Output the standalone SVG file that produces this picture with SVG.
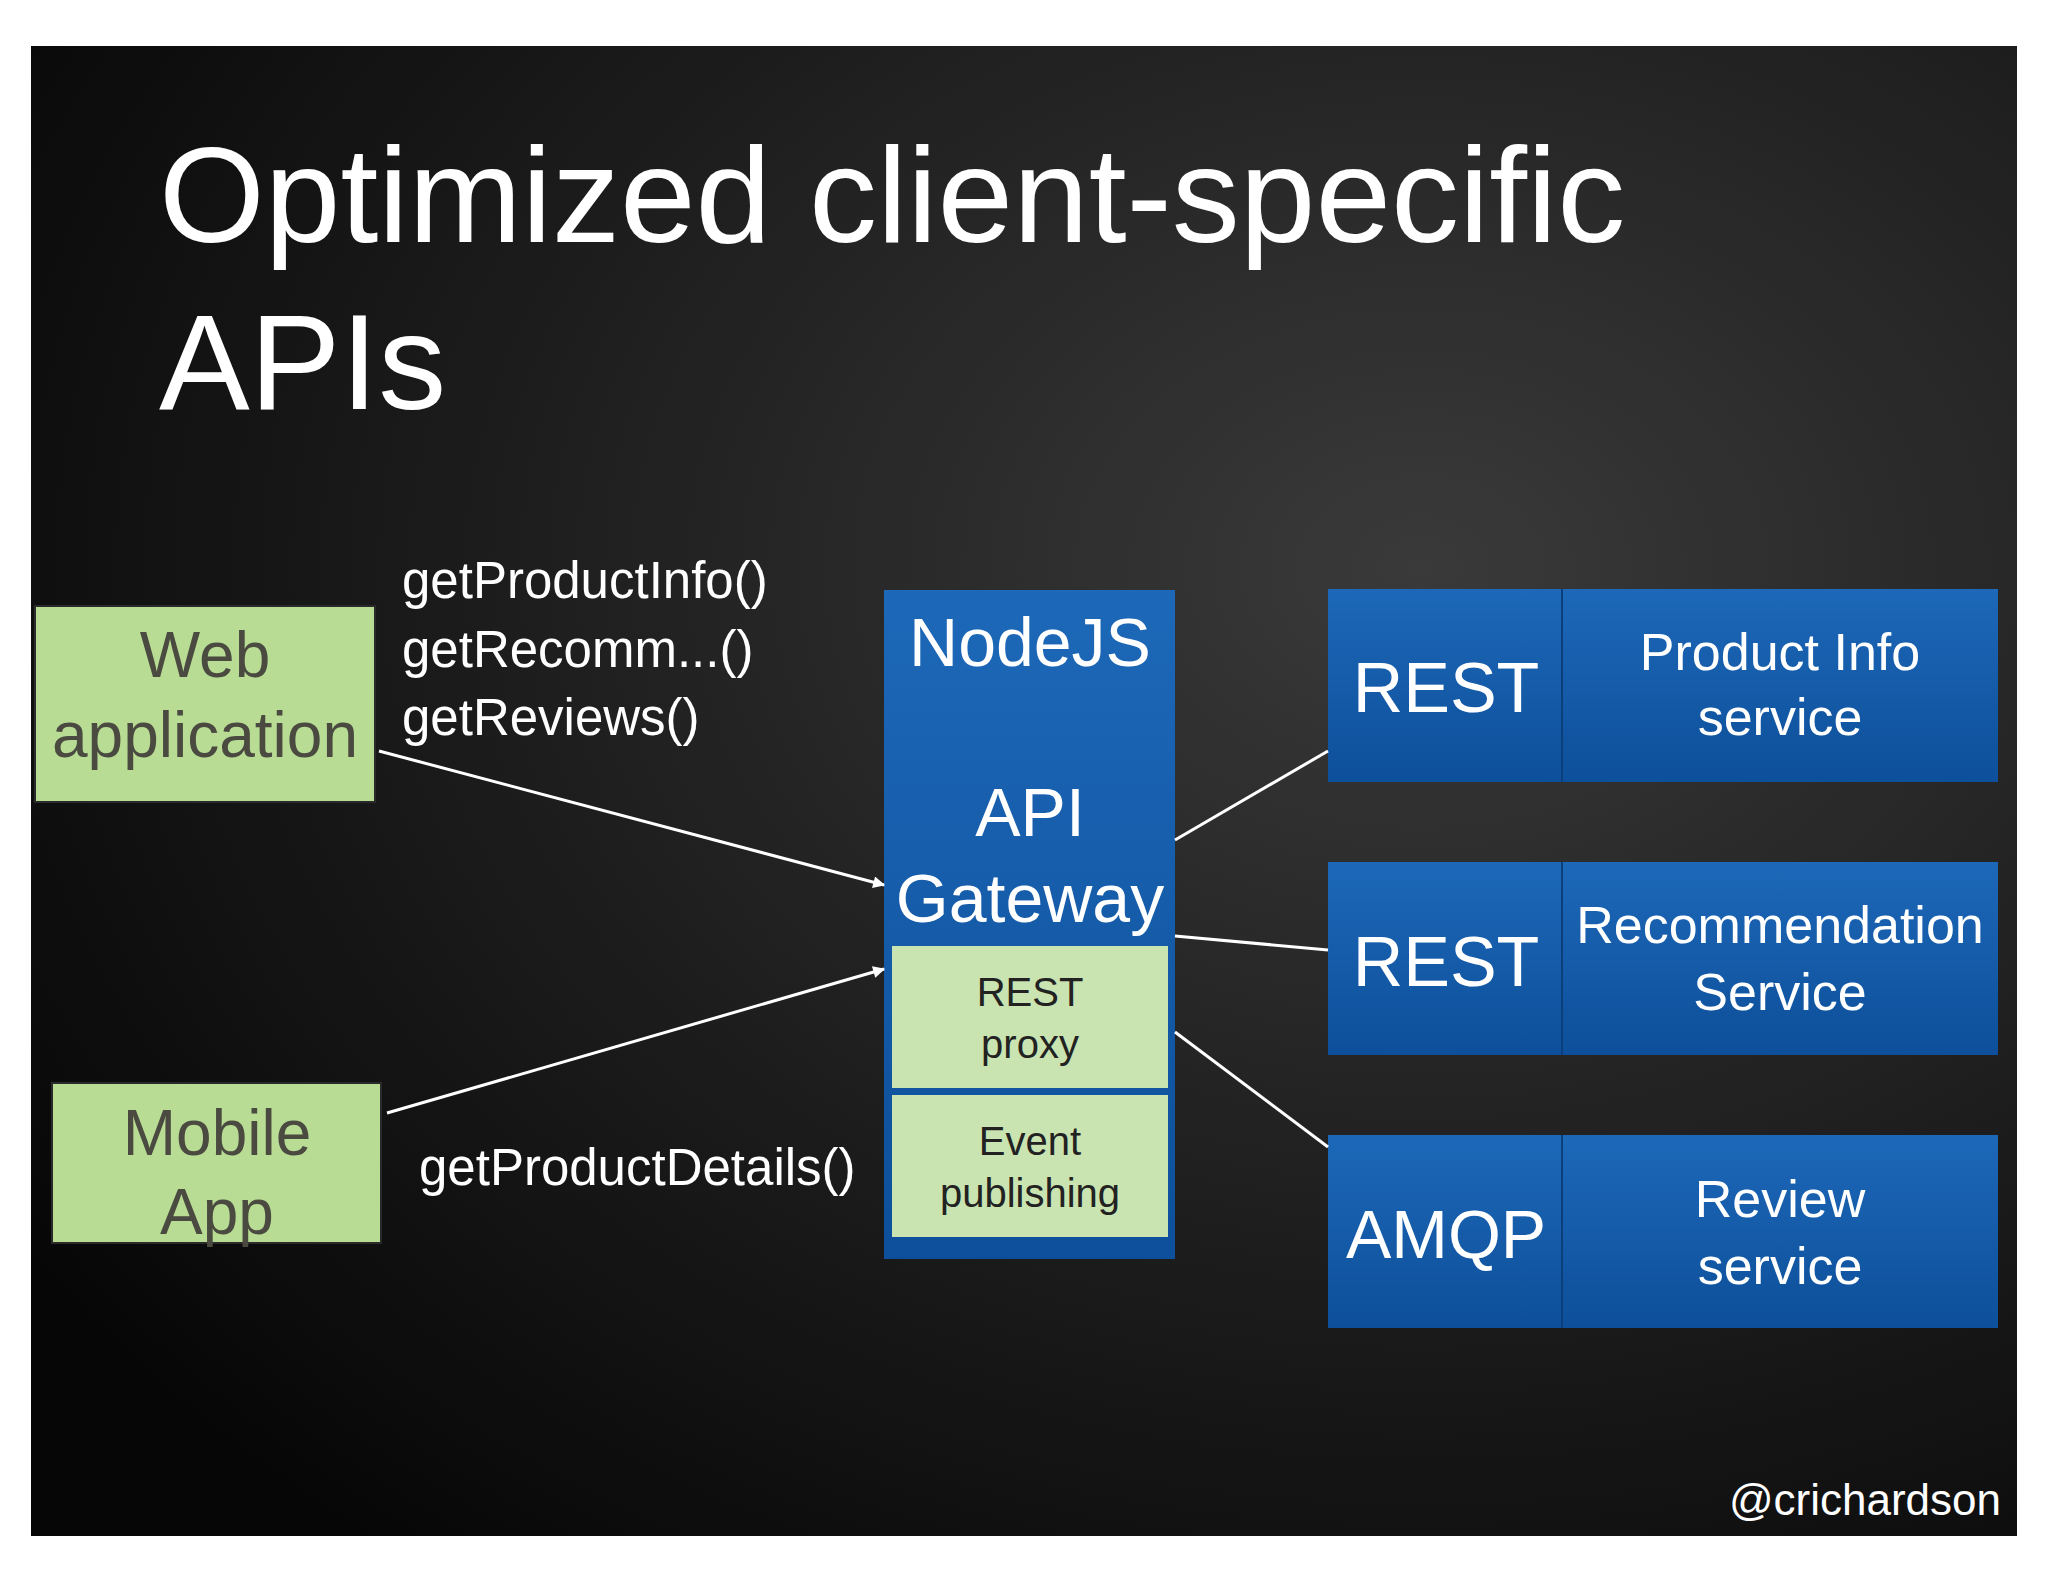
<svg xmlns="http://www.w3.org/2000/svg" width="2048" height="1582" viewBox="0 0 2048 1582">
<defs>
<radialGradient id="bg" cx="0.7" cy="0.35" r="0.85">
<stop offset="0" stop-color="#3a3a3a"/><stop offset="0.6" stop-color="#1a1a1a"/><stop offset="1" stop-color="#060606"/>
</radialGradient>
<linearGradient id="blue" x1="0" y1="0" x2="0" y2="1">
<stop offset="0" stop-color="#1d68b8"/><stop offset="1" stop-color="#0d4f9a"/>
</linearGradient>
<marker id="arr" viewBox="0 0 10 10" refX="9" refY="5" markerWidth="14" markerHeight="12" markerUnits="userSpaceOnUse" orient="auto">
<path d="M0,0 L10,5 L0,10 z" fill="#fff"/>
</marker>
<style>
text{font-family:"Liberation Sans",Arial,sans-serif;}
.w{fill:#fff;}
.g{fill:#b8dc94;stroke:#2a2a2a;stroke-width:2;}
.gt{fill:#4a4a40;font-size:64px;text-anchor:middle;}
.lbl{fill:#fff;font-size:51px;}
.b{fill:url(#blue);}
.bt{fill:#fff;text-anchor:middle;}
.in{fill:#c9e4b0;}
.it{fill:#222;font-size:40px;text-anchor:middle;}
.c{stroke:#fff;stroke-width:3;fill:none;}
</style>
</defs>
<rect width="2048" height="1582" fill="#fff"/>
<rect x="31" y="46" width="1986" height="1490" fill="url(#bg)"/>
<text class="w" x="159" y="242" font-size="136">Optimized client-specific</text>
<text class="w" x="159" y="409" font-size="136">APIs</text>
<g id="web"><rect class="g" x="35" y="606" width="340" height="196"/>
<text class="gt" x="205" y="677">Web</text><text class="gt" x="205" y="757">application</text></g>
<g id="mobile"><rect class="g" x="52" y="1083" width="329" height="160"/>
<text class="gt" x="217" y="1155">Mobile</text><text class="gt" x="217" y="1234">App</text></g>
<g id="labels">
<text class="lbl" x="402" y="598">getProductInfo()</text>
<text class="lbl" x="402" y="667">getRecomm...()</text>
<text class="lbl" x="402" y="735">getReviews()</text>
<text class="lbl" x="419" y="1185">getProductDetails()</text>
</g>
<g id="gateway"><rect class="b" x="884" y="590" width="291" height="669"/>
<text class="bt" x="1030" y="666" font-size="68">NodeJS</text>
<text class="bt" x="1030" y="836" font-size="68">API</text>
<text class="bt" x="1030" y="922" font-size="68">Gateway</text>
<rect class="in" x="892" y="946" width="276" height="142"/>
<text class="it" x="1030" y="1006">REST</text><text class="it" x="1030" y="1058">proxy</text>
<rect class="in" x="892" y="1095" width="276" height="142"/>
<text class="it" x="1030" y="1155">Event</text><text class="it" x="1030" y="1207">publishing</text>
</g>
<g id="svc1"><rect class="b" x="1328" y="589" width="670" height="193"/>
<line x1="1562" y1="589" x2="1562" y2="782" stroke="#0a3f7c" stroke-width="2"/>
<text class="bt" x="1446" y="712" font-size="70">REST</text>
<text class="bt" x="1780" y="670" font-size="52">Product Info</text><text class="bt" x="1780" y="735" font-size="52">service</text></g>
<g id="svc2"><rect class="b" x="1328" y="862" width="670" height="193"/>
<line x1="1562" y1="862" x2="1562" y2="1055" stroke="#0a3f7c" stroke-width="2"/>
<text class="bt" x="1446" y="986" font-size="70">REST</text>
<text class="bt" x="1780" y="943" font-size="52">Recommendation</text><text class="bt" x="1780" y="1010" font-size="52">Service</text></g>
<g id="svc3"><rect class="b" x="1328" y="1135" width="670" height="193"/>
<line x1="1562" y1="1135" x2="1562" y2="1328" stroke="#0a3f7c" stroke-width="2"/>
<text class="bt" x="1446" y="1258" font-size="68">AMQP</text>
<text class="bt" x="1780" y="1217" font-size="52">Review</text><text class="bt" x="1780" y="1284" font-size="52">service</text></g>
<g id="connectors">
<line class="c" x1="379" y1="751" x2="884" y2="885" marker-end="url(#arr)"/>
<line class="c" x1="387" y1="1113" x2="884" y2="969" marker-end="url(#arr)"/>
<line class="c" x1="1175" y1="840" x2="1328" y2="751"/>
<line class="c" x1="1175" y1="936" x2="1328" y2="950"/>
<line class="c" x1="1175" y1="1032" x2="1328" y2="1147"/>
</g>
<text class="w" x="2001" y="1515" font-size="44" text-anchor="end">@crichardson</text>
</svg>
